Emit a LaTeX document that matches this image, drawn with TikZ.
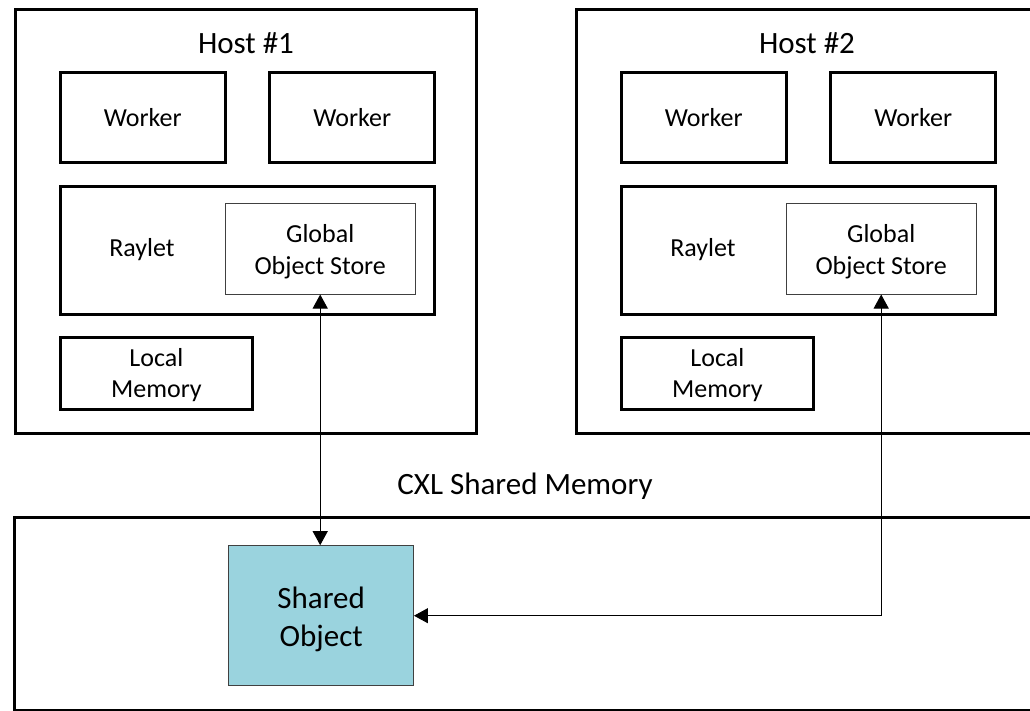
\documentclass[tikz,border=0pt]{standalone}
\usepackage{fontspec}
\setmainfont{Carlito}
\usetikzlibrary{arrows.meta}
\definecolor{objfill}{RGB}{154,211,222}
\begin{document}
\begin{tikzpicture}[x=1pt,y=-1pt,
  frame/.style={draw, line width=3pt, inner sep=0pt},
  unit/.style={draw, line width=3pt, inner sep=0pt, align=center,
    font=\fontsize{26}{31.7}\selectfont},
  store/.style={draw=black!75, line width=1pt, inner sep=0pt},
  caption/.style={inner sep=0pt, font=\fontsize{31}{38}\selectfont},
  plain/.style={inner sep=0pt, align=center, font=\fontsize{26}{31.7}\selectfont},
  tip/.style={Triangle[length=14pt,width=15pt]},
  link/.style={line width=1pt, {Triangle[length=14pt,width=15pt]}-{Triangle[length=14pt,width=15pt]}}]
\useasboundingbox (0,0) rectangle (1030,711);
\clip (0,0) rectangle (1030,711);

% Host #1
\node[frame, minimum width=461pt, minimum height=424pt] (h1) at (246,221.5) {};
\node[caption] (h1t) at (246,43) {Host \#1};
\node[unit, minimum width=164.5pt, minimum height=90pt] (h1w1) at (142.75,118) {Worker};
\node[unit, minimum width=165pt, minimum height=90pt] (h1w2) at (352.2,118) {Worker};
\node[unit, minimum width=374pt, minimum height=128pt] (h1r) at (247.6,250.4) {};
\node[plain] (h1rt) at (142,250) {Raylet};
\node[store, minimum width=190pt, minimum height=90pt] (h1g) at (320.2,249) {};
\node[plain] (h1gt) at (320.2,251.5) {Global\\Object Store};
\node[unit, minimum width=191.8pt, minimum height=72pt] (h1m) at (156.4,373) {};
\node[plain] (h1mt) at (156.4,375) {Local\\Memory};

% Host #2
\begin{scope}[xshift=561pt]
\node[frame, minimum width=461pt, minimum height=424pt] (h2) at (246,221.5) {};
\node[caption] (h2t) at (246,43) {Host \#2};
\node[unit, minimum width=164.5pt, minimum height=90pt] (h2w1) at (142.75,118) {Worker};
\node[unit, minimum width=165pt, minimum height=90pt] (h2w2) at (352.2,118) {Worker};
\node[unit, minimum width=374pt, minimum height=128pt] (h2r) at (247.6,250.4) {};
\node[plain] (h2rt) at (142,250) {Raylet};
\node[store, minimum width=190pt, minimum height=90pt] (h2g) at (320.2,249) {};
\node[plain] (h2gt) at (320.2,251.5) {Global\\Object Store};
\node[unit, minimum width=191.8pt, minimum height=72pt] (h2m) at (156.4,373) {};
\node[plain] (h2mt) at (156.4,375) {Local\\Memory};
\end{scope}

% CXL shared memory region
\node[caption] (cxlt) at (525,486) {CXL Shared Memory};
\node[frame, minimum width=1040pt, minimum height=193pt] (cxl) at (534.5,614) {};
\node[draw=black!75, fill=objfill, line width=1pt, inner sep=0pt,
  minimum width=184.5pt, minimum height=140pt] (obj) at (321.2,615.7) {};
\node[inner sep=0pt, align=center, font=\fontsize{31}{38}\selectfont]
  (objt) at (321.2,619.5) {Shared\\Object};

% Connections
\draw[link] (h1g.south) -- (h1g.south |- obj.north);
\coordinate (bend) at (h2g.south |- obj.east);
\draw[link] (h2g.south) -- (bend) -- (obj.east);
\end{tikzpicture}
\end{document}
